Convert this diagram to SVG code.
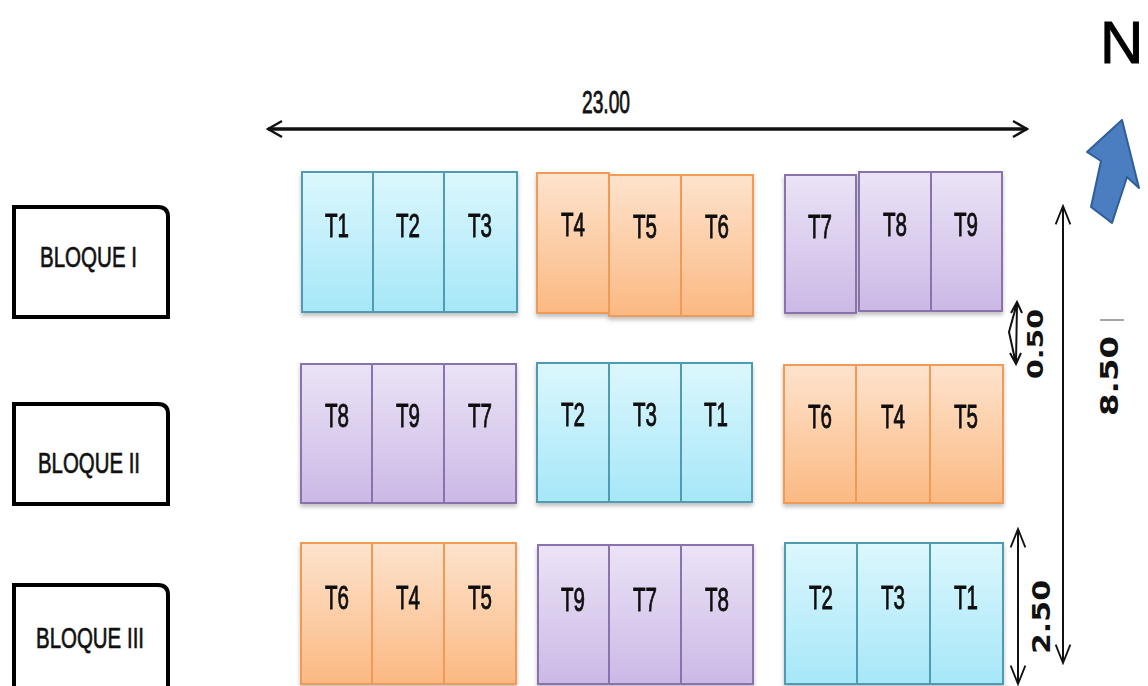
<svg xmlns="http://www.w3.org/2000/svg" width="1148" height="686" viewBox="0 0 1148 686">
<defs>
<linearGradient id="gc" x1="0" y1="0" x2="0" y2="1"><stop offset="0" stop-color="#dcf7fd"/><stop offset="1" stop-color="#a6e7f8"/></linearGradient>
<linearGradient id="go" x1="0" y1="0" x2="0" y2="1"><stop offset="0" stop-color="#fde3cd"/><stop offset="1" stop-color="#fbb982"/></linearGradient>
<linearGradient id="gp" x1="0" y1="0" x2="0" y2="1"><stop offset="0" stop-color="#ebe3f6"/><stop offset="1" stop-color="#cbb9e6"/></linearGradient>
<filter id="sh" x="-10%" y="-10%" width="120%" height="125%"><feDropShadow dx="0" dy="3" stdDeviation="2" flood-color="#000" flood-opacity="0.25"/></filter>
<marker id="oa" viewBox="0 0 20 20" refX="18" refY="10" markerWidth="20" markerHeight="20" markerUnits="userSpaceOnUse" orient="auto-start-reverse"><path d="M4,2 L18,10 L4,18" fill="none" stroke="#111" stroke-width="2.5"/></marker>
<marker id="ob" viewBox="0 0 24 24" refX="22" refY="12" markerWidth="22" markerHeight="22" markerUnits="userSpaceOnUse" orient="auto-start-reverse"><path d="M2,4 L22,12 L2,20" fill="none" stroke="#111" stroke-width="2"/></marker>
</defs>
<style>
.c{fill:url(#gc);stroke:#4f9bb1;stroke-width:2}
.o{fill:url(#go);stroke:#f09a55;stroke-width:2}
.p{fill:url(#gp);stroke:#8a72ac;stroke-width:2}
.t{font-family:"Liberation Sans Narrow","Liberation Sans",Arial,sans-serif;font-size:34px;fill:#111;stroke:#111;stroke-width:0.9;text-anchor:middle}
.b{font-family:"Liberation Sans Narrow","Liberation Sans",Arial,sans-serif;font-size:30px;fill:#111;stroke:#111;stroke-width:0.7}
.bx{fill:#fff;stroke:#000;stroke-width:4}
.n{font-family:"DejaVu Sans","Liberation Sans",sans-serif;font-weight:bold;fill:#111;text-anchor:middle}
.dl{stroke:#111;fill:none}
</style>
<rect width="1148" height="686" fill="#fff"/>

<g id="bloque1"><path class="bx" d="M14,207 H158 Q168,207 168,217 V317 H14 Z"/><text class="b" x="40" y="267" textLength="97" lengthAdjust="spacingAndGlyphs">BLOQUE I</text></g>
<g id="bloque2"><path class="bx" d="M14,404 H158 Q168,404 168,414 V504 H14 Z"/><text class="b" x="38" y="473" textLength="102" lengthAdjust="spacingAndGlyphs">BLOQUE II</text></g>
<g id="bloque3"><path class="bx" d="M14,585 H158 Q168,585 168,595 V690 H14 Z"/><text class="b" x="36" y="648" textLength="108" lengthAdjust="spacingAndGlyphs">BLOQUE III</text></g>

<g id="row1" filter="url(#sh)">
<g id="r1T1"><rect class="c" x="302" y="172" width="71" height="140"/><text class="t" x="337" y="237" textLength="24" lengthAdjust="spacingAndGlyphs">T1</text></g>
<g id="r1T2"><rect class="c" x="373" y="172" width="71" height="140"/><text class="t" x="408" y="237" textLength="24" lengthAdjust="spacingAndGlyphs">T2</text></g>
<g id="r1T3"><rect class="c" x="444" y="172" width="73" height="140"/><text class="t" x="480" y="237" textLength="24" lengthAdjust="spacingAndGlyphs">T3</text></g>
<g id="r1T4"><rect class="o" x="537" y="173" width="72" height="140"/><text class="t" x="573" y="236" textLength="24" lengthAdjust="spacingAndGlyphs">T4</text></g>
<g id="r1T5"><rect class="o" x="609" y="175" width="72" height="141"/><text class="t" x="645" y="238" textLength="24" lengthAdjust="spacingAndGlyphs">T5</text></g>
<g id="r1T6"><rect class="o" x="681" y="175" width="72" height="141"/><text class="t" x="717" y="238" textLength="24" lengthAdjust="spacingAndGlyphs">T6</text></g>
<g id="r1T7"><rect class="p" x="785" y="175" width="71" height="138"/><text class="t" x="820" y="238" textLength="24" lengthAdjust="spacingAndGlyphs">T7</text></g>
<g id="r1T8"><rect class="p" x="859" y="172" width="72" height="139"/><text class="t" x="895" y="236" textLength="24" lengthAdjust="spacingAndGlyphs">T8</text></g>
<g id="r1T9"><rect class="p" x="931" y="172" width="71" height="139"/><text class="t" x="966" y="236" textLength="24" lengthAdjust="spacingAndGlyphs">T9</text></g>
</g>

<g id="row2" filter="url(#sh)">
<g id="r2T8"><rect class="p" x="301" y="364" width="71" height="139"/><text class="t" x="337" y="427" textLength="24" lengthAdjust="spacingAndGlyphs">T8</text></g>
<g id="r2T9"><rect class="p" x="372" y="364" width="72" height="139"/><text class="t" x="408" y="427" textLength="24" lengthAdjust="spacingAndGlyphs">T9</text></g>
<g id="r2T7"><rect class="p" x="444" y="364" width="72" height="139"/><text class="t" x="480" y="427" textLength="24" lengthAdjust="spacingAndGlyphs">T7</text></g>
<g id="r2T2"><rect class="c" x="537" y="363" width="72" height="139"/><text class="t" x="573" y="426" textLength="24" lengthAdjust="spacingAndGlyphs">T2</text></g>
<g id="r2T3"><rect class="c" x="609" y="363" width="72" height="139"/><text class="t" x="645" y="426" textLength="24" lengthAdjust="spacingAndGlyphs">T3</text></g>
<g id="r2T1"><rect class="c" x="681" y="363" width="71" height="139"/><text class="t" x="716" y="426" textLength="24" lengthAdjust="spacingAndGlyphs">T1</text></g>
<g id="r2T6"><rect class="o" x="784" y="365" width="72" height="138"/><text class="t" x="820" y="428" textLength="24" lengthAdjust="spacingAndGlyphs">T6</text></g>
<g id="r2T4"><rect class="o" x="856" y="365" width="74" height="138"/><text class="t" x="893" y="428" textLength="24" lengthAdjust="spacingAndGlyphs">T4</text></g>
<g id="r2T5"><rect class="o" x="930" y="365" width="73" height="138"/><text class="t" x="966" y="428" textLength="24" lengthAdjust="spacingAndGlyphs">T5</text></g>
</g>

<g id="row3" filter="url(#sh)">
<g id="r3T6"><rect class="o" x="301" y="543" width="71" height="141"/><text class="t" x="337" y="609" textLength="24" lengthAdjust="spacingAndGlyphs">T6</text></g>
<g id="r3T4"><rect class="o" x="372" y="543" width="72" height="141"/><text class="t" x="408" y="609" textLength="24" lengthAdjust="spacingAndGlyphs">T4</text></g>
<g id="r3T5"><rect class="o" x="444" y="543" width="72" height="141"/><text class="t" x="480" y="609" textLength="24" lengthAdjust="spacingAndGlyphs">T5</text></g>
<g id="r3T9"><rect class="p" x="538" y="545" width="71" height="139"/><text class="t" x="573" y="611" textLength="24" lengthAdjust="spacingAndGlyphs">T9</text></g>
<g id="r3T7"><rect class="p" x="609" y="545" width="72" height="139"/><text class="t" x="645" y="611" textLength="24" lengthAdjust="spacingAndGlyphs">T7</text></g>
<g id="r3T8"><rect class="p" x="681" y="545" width="72" height="139"/><text class="t" x="717" y="611" textLength="24" lengthAdjust="spacingAndGlyphs">T8</text></g>
<g id="r3T2"><rect class="c" x="785" y="543" width="72" height="141"/><text class="t" x="821" y="609" textLength="24" lengthAdjust="spacingAndGlyphs">T2</text></g>
<g id="r3T3"><rect class="c" x="857" y="543" width="73" height="141"/><text class="t" x="893" y="609" textLength="24" lengthAdjust="spacingAndGlyphs">T3</text></g>
<g id="r3T1"><rect class="c" x="930" y="543" width="73" height="141"/><text class="t" x="966" y="609" textLength="24" lengthAdjust="spacingAndGlyphs">T1</text></g>
</g>

<g id="connectors">
<line class="dl" x1="268" y1="129" x2="1027" y2="129" stroke-width="3.5" marker-start="url(#oa)" marker-end="url(#oa)"/>
<line class="dl" x1="1063" y1="206" x2="1063" y2="663" stroke-width="2" marker-start="url(#ob)" marker-end="url(#ob)"/>
<line class="dl" x1="1018" y1="529" x2="1018" y2="684" stroke-width="2" marker-start="url(#ob)" marker-end="url(#ob)"/>
<path class="dl" stroke-width="2" d="M1017,303 L1009,332 L1016,364 M1011,313 L1017,302 L1022,313 M1010,353 L1016,364 L1021,353 M1017,303 L1016,364"/>
</g>

<g id="labels">
<text x="606" y="113" font-family="'Liberation Sans Narrow','Liberation Sans',Arial,sans-serif" font-size="31" fill="#111" stroke="#111" stroke-width="0.8" text-anchor="middle" textLength="48" lengthAdjust="spacingAndGlyphs">23.00</text>
<text class="n" transform="translate(1043,344) rotate(-90)" font-size="21" textLength="70" lengthAdjust="spacingAndGlyphs">0.50</text>
<text class="n" transform="translate(1050,617) rotate(-90)" font-size="24" textLength="74" lengthAdjust="spacingAndGlyphs">2.50</text>
<text class="n" transform="translate(1118,376) rotate(-90)" font-size="25" textLength="80" lengthAdjust="spacingAndGlyphs">8.50</text>
<line x1="1100" y1="320" x2="1124" y2="320" stroke="#888" stroke-width="1.5"/>
</g>

<g id="north">
<text x="1100" y="63" font-family="'Liberation Sans',Arial,sans-serif" font-size="60" fill="#000" stroke="#000" stroke-width="1">N</text>
<path d="M1122,120 L1139,188 L1127,177 L1112,223 L1091,207 L1101,161 L1087,152 Z" fill="#4a7ec0" stroke="#2f5e98" stroke-width="2" stroke-linejoin="round"/>
</g>
</svg>
